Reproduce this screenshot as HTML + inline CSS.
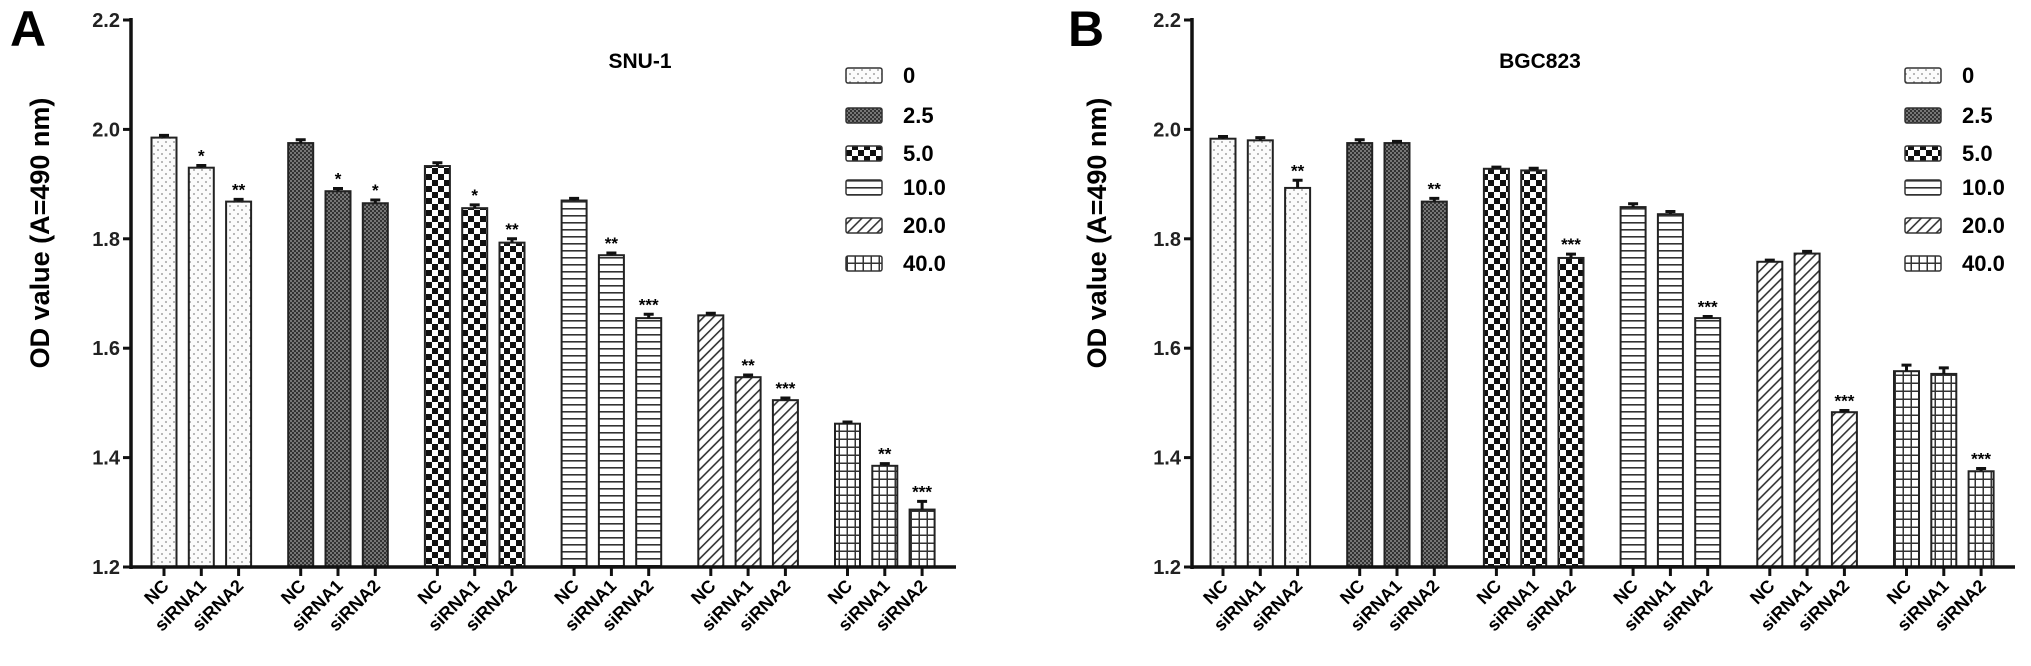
<!DOCTYPE html>
<html><head><meta charset="utf-8"><style>
html,body{margin:0;padding:0;background:#fff;}
svg{display:block;font-family:"Liberation Sans",Arial,sans-serif;}
</style></head><body>
<svg id="fig" width="2031" height="666" viewBox="0 0 2031 666" xmlns="http://www.w3.org/2000/svg">
<defs>
<pattern id="p0" width="8" height="8" patternUnits="userSpaceOnUse"><rect width="8" height="8" fill="#fbfbfb"/><circle cx="2" cy="2" r="0.9" fill="#888"/><circle cx="6" cy="6" r="0.9" fill="#888"/></pattern>
<pattern id="p1" width="4" height="4" patternUnits="userSpaceOnUse"><rect width="4" height="4" fill="#777"/><rect width="2" height="2" fill="#333"/><rect x="2" y="2" width="2" height="2" fill="#333"/></pattern>
<pattern id="p2" width="12" height="12" patternUnits="userSpaceOnUse"><rect width="12" height="12" fill="#fff"/><rect width="6" height="6" fill="#111"/><rect x="6" y="6" width="6" height="6" fill="#111"/></pattern>
<pattern id="p3" width="8" height="7" patternUnits="userSpaceOnUse"><rect width="8" height="7" fill="#fff"/><rect y="5" width="8" height="1.6" fill="#333"/></pattern>
<pattern id="p4" width="7" height="7" patternUnits="userSpaceOnUse" patternTransform="rotate(45)"><rect width="7" height="7" fill="#fff"/><rect width="1.6" height="7" fill="#333"/></pattern>
<pattern id="p5" width="8" height="8" patternUnits="userSpaceOnUse"><rect width="8" height="8" fill="#fff"/><rect y="6.5" width="8" height="1.5" fill="#333"/><rect x="6.5" width="1.5" height="8" fill="#333"/></pattern>
</defs>
<g id="root"></g>
</svg>
<script>
const categories = ["NC", "siRNA1", "siRNA2"];
const doses = ["0", "2.5", "5.0", "10.0", "20.0", "40.0"];
const yTicks = [1.2, 1.4, 1.6, 1.8, 2.0, 2.2];
const yTickLabels = ["1.2", "1.4", "1.6", "1.8", "2.0", "2.2"];
const snuValues = [[1.985,1.930,1.868],[1.975,1.887,1.865],[1.933,1.856,1.793],[1.870,1.770,1.655],[1.660,1.547,1.505],[1.462,1.385,1.305]];
const snuErrors = [[0.004,0.004,0.004],[0.006,0.005,0.006],[0.006,0.006,0.007],[0.004,0.004,0.007],[0.004,0.004,0.004],[0.003,0.004,0.015]];
const snuStars = [["","*","**"],["","*","*"],["","*","**"],["","**","***"],["","**","***"],["","**","***"]];
const bgcValues = [[1.983,1.980,1.893],[1.975,1.975,1.868],[1.928,1.925,1.765],[1.858,1.845,1.655],[1.758,1.773,1.483],[1.558,1.553,1.375]];
const bgcErrors = [[0.004,0.005,0.014],[0.006,0.003,0.006],[0.003,0.004,0.007],[0.006,0.005,0.003],[0.003,0.004,0.003],[0.011,0.011,0.005]];
const bgcStars = [["","","**"],["","","**"],["","","***"],["","","***"],["","","***"],["","","***"]];

const NS = "http://www.w3.org/2000/svg";
const root = document.getElementById("root");
function mk(tag, attrs, parent, text){
  const e = document.createElementNS(NS, tag);
  for (const k in attrs) e.setAttribute(k, attrs[k]);
  if (text !== undefined) e.textContent = text;
  (parent || root).appendChild(e);
  return e;
}
function panel(o){
  const g = mk("g", {});
  
  
  const y0 = 567, yTop = 20;
  const ys = v => y0 - (v - 1.2) / 1.0 * (y0 - yTop);
  const xs = (gi, ci) => o.x0 + gi * 136.7 + ci * 37.3;
  // letter
  const L = mk("text", {x:o.letterX, y:46, "font-size":50, "font-weight":"bold"}, g, o.letter);
  
  
  // y label
  const yl = mk("text", {x:0, y:0, "font-size":27, "font-weight":"bold", "text-anchor":"middle", transform:`translate(${o.ylX},233) rotate(-90)`}, g, "OD value  (A=490 nm)");
  
  
  // title
  const t = mk("text", {x:o.titleX, y:68, "font-size":21, "font-weight":"bold", "text-anchor":"middle"}, g, o.title);
  
  
  // bars
  o.values.forEach((grp, gi) => {
    grp.forEach((v, ci) => {
      const cx = xs(gi, ci);
      const r = mk("rect", {x:cx-12.5, y:ys(v), width:25, height:y0-ys(v), fill:`url(#p${gi})`, stroke:"#222", "stroke-width":2}, g);
      
      
      const e = o.errors[gi][ci];
      const et = ys(v + e);
      const eb = mk("path", {d:`M${cx},${ys(v)} V${et} M${cx-5},${et} H${cx+5}`, stroke:"#111", "stroke-width":3, fill:"none"}, g);
      
      
      if (o.stars[gi][ci]) {
        const s = mk("text", {x:cx, y:et-4, "font-size":17, "font-weight":"bold", "text-anchor":"middle"}, g, o.stars[gi][ci]);
        
        
      }
      const tk = mk("line", {x1:cx, y1:y0, x2:cx, y2:y0+9, stroke:"#111", "stroke-width":3}, g);
      
      
      const lb = mk("text", {x:0, y:0, "font-size":18, "font-weight":"bold", "text-anchor":"end", transform:`translate(${cx+6},${y0+20}) rotate(-45)`}, g, categories[ci]);
      
      
    });
  });
  // axes
  const ya = mk("line", {x1:o.ax, y1:yTop-2, x2:o.ax, y2:y0+2, stroke:"#111", "stroke-width":3.5}, g);
  
  
  const xa = mk("line", {x1:o.ax, y1:y0, x2:o.axEnd, y2:y0, stroke:"#111", "stroke-width":3.5}, g);
  
  
  yTicks.forEach((v, i) => {
    const tk = mk("line", {x1:o.ax-8, y1:ys(v), x2:o.ax, y2:ys(v), stroke:"#111", "stroke-width":3}, g);
    
    
    const tl = mk("text", {x:o.ax-11, y:ys(v)+7, "font-size":20, "font-weight":"bold", "text-anchor":"end", fill:"#222"}, g, yTickLabels[i]);
    
    
  });
  // legend
  doses.forEach((d, i) => {
    const yy = [75,115,153,187,225,263][i];
    const lg = mk("g", {}, g);
    
    
    mk("rect", {x:o.legX, y:yy-7, width:36, height:15, fill:`url(#p${i})`, stroke:"#333", "stroke-width":1.5, rx:2}, lg);
    mk("text", {x:o.legX+57, y:yy+8, "font-size":22, "font-weight":"bold"}, lg, d);
  });
}
panel({name:"panel-a-snu1", letter:"A", letterX:10, ylX:49, title:"SNU-1", titleX:640, x0:164, ax:131, axEnd:956, legX:846, values:snuValues, errors:snuErrors, stars:snuStars});
panel({name:"panel-b-bgc823", letter:"B", letterX:1068, ylX:1106, title:"BGC823", titleX:1540, x0:1223, ax:1192, axEnd:2015, legX:1905, values:bgcValues, errors:bgcErrors, stars:bgcStars});
</script>
</body></html>
